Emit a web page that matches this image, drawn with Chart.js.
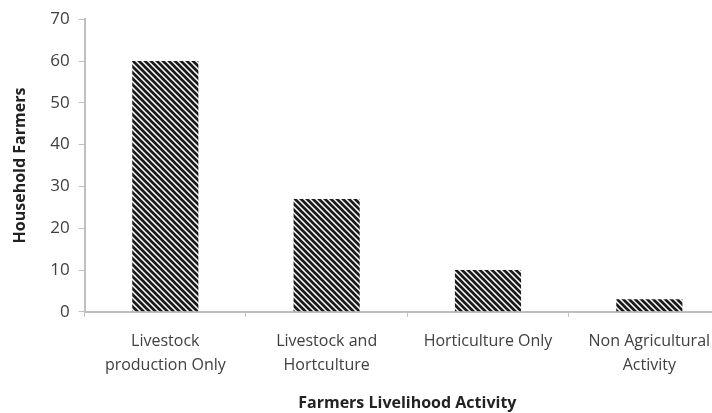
<!DOCTYPE html>
<html>
<head>
<meta charset="utf-8">
<script src="https://cdn.jsdelivr.net/npm/chart.js@4"></script>
<style>
    html, body { margin: 0; padding: 0; background: #fff; overflow: hidden; }
    #wrap { width: 745px; height: 413px; }
</style>
</head>
<body>
<div id="wrap"><canvas id="chart" width="745" height="413"></canvas></div>
<script>
// Livelihood activity of household farmers
const categories = [
    ["Livestock", "production Only"],
    ["Livestock and", "Hortculture"],
    ["Horticulture Only"],
    ["Non Agricultural", "Activity"]
];
const farmers = [60, 27, 10, 3];
const yTicks = [0, 10, 20, 30, 40, 50, 60, 70];

const textColor = "#404040";
const axisColor = "#bfbfbf";
const fontFamily = "'Open Sans', 'Liberation Sans', sans-serif";

/**
 * Builds a diagonal hatch fill (top-left to bottom-right stripes).
 */
const makeHatch = () => {
    const size = 6;
    const tile = document.createElement("canvas");
    tile.width = size;
    tile.height = size;
    const c = tile.getContext("2d");
    c.fillStyle = "#fff";
    c.fillRect(0, 0, size, size);
    c.strokeStyle = "#1a1a1a";
    c.lineWidth = 2.7;
    c.beginPath();
    // main stripe plus the two wrapped corner pieces so the tile repeats cleanly
    c.moveTo(-1, -1); c.lineTo(size + 1, size + 1);
    c.moveTo(size - 1, -1); c.lineTo(size + 1, 1);
    c.moveTo(-1, size - 1); c.lineTo(1, size + 1);
    c.stroke();
    return c.createPattern(tile, "repeat");
};

const ctx = document.getElementById("chart").getContext("2d");

new Chart(ctx, {
    type: "bar",
    data: {
        labels: categories,
        datasets: [{
            label: "Household Farmers",
            data: farmers,
            backgroundColor: makeHatch(),
            borderWidth: 0,
            barPercentage: 0.41,
            categoryPercentage: 1
        }]
    },
    options: {
        responsive: false,
        animation: false,
        layout: { padding: { top: 11, left: 11, right: 15, bottom: 0 } },
        plugins: {
            legend: { display: false },
            tooltip: { enabled: false }
        },
        scales: {
            x: {
                offset: true,
                grid: {
                    offset: true,
                    drawOnChartArea: false,
                    drawTicks: true,
                    tickLength: 5,
                    color: axisColor
                },
                border: { color: axisColor, width: 2 },
                ticks: {
                    color: textColor,
                    font: { family: fontFamily, size: 16, lineHeight: 1.5 },
                    padding: 13,
                    maxRotation: 0,
                    autoSkip: false
                },
                title: {
                    display: true,
                    text: "Farmers Livelihood Activity",
                    color: "#222",
                    font: { family: fontFamily, size: 16, weight: "bold" },
                    padding: { top: 3, bottom: 0 }
                }
            },
            y: {
                min: 0,
                max: 70,
                afterBuildTicks: (axis) => {
                    axis.ticks = yTicks.map(v => ({ value: v }));
                },
                grid: {
                    drawOnChartArea: false,
                    drawTicks: true,
                    tickLength: 6,
                    color: axisColor
                },
                border: { color: axisColor, width: 2 },
                ticks: {
                    color: textColor,
                    font: { family: fontFamily, size: 17 },
                    padding: 9
                },
                title: {
                    display: true,
                    text: "Household Farmers",
                    color: "#222",
                    font: { family: fontFamily, size: 16, weight: "bold" },
                    padding: { top: 0, bottom: 11 }
                }
            }
        }
    }
});
</script>
</body>
</html>
